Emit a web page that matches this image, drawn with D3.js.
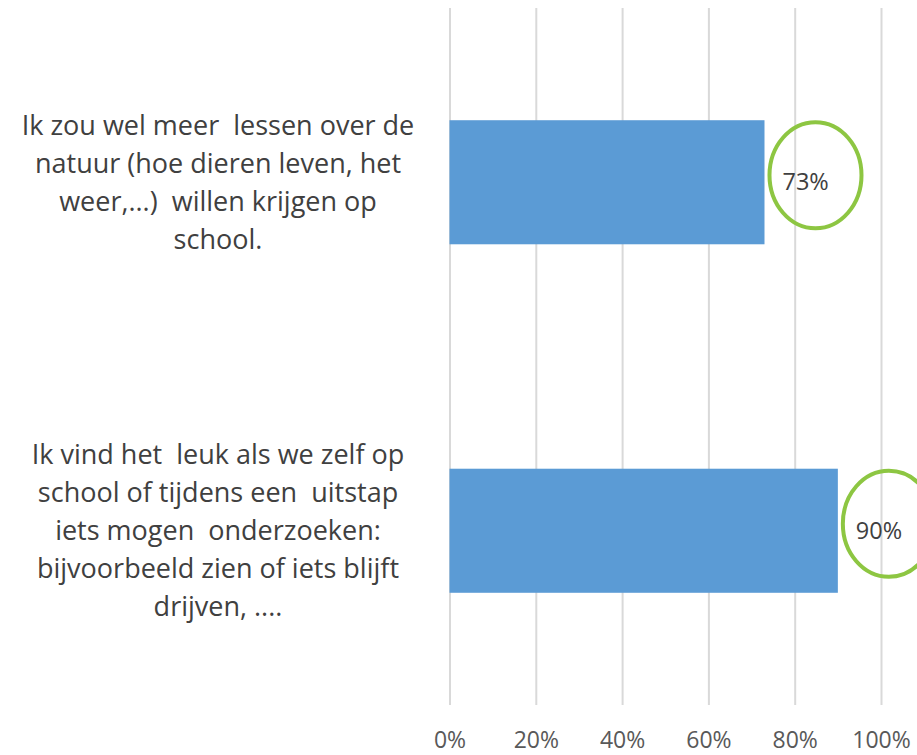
<!DOCTYPE html>
<html>
<head>
<meta charset="utf-8">
<script src="https://cdn.jsdelivr.net/npm/d3@7"></script>
<style>
  body { margin: 0; background: #fff; }
  svg { display: block; font-family: "Open Sans", "Noto Sans", sans-serif; }
  .cat text { white-space: pre; }
</style>
</head>
<body>
<svg id="chart" width="917" height="755"></svg>
<script>
// statements (one entry per bar, each split in its lines as in the picture)
const categories = ["natuur", "onderzoeken"]
const labelLines = [
    ["Ik zou wel meer  lessen over de", "natuur (hoe dieren leven, het", "weer,...)  willen krijgen op", "school."],
    ["Ik vind het  leuk als we zelf op", "school of tijdens een  uitstap", "iets mogen  onderzoeken:", "bijvoorbeeld zien of iets blijft", "drijven, ...."]
]
const values = [0.73, 0.90]
const tickValues = [0, 0.2, 0.4, 0.6, 0.8, 1]

const svg = d3.select("#chart")

const plotTop = 8, plotBottom = 705
const x = d3.scaleLinear().domain([0, 1]).range([449.5, 881])
const y = d3.scaleBand().domain(categories).range([plotTop, plotBottom])
    .paddingInner(0.644).paddingOuter(0.322)

// gridlines + tick labels
var axis = d3.axisBottom(x).tickValues(tickValues).tickFormat(d3.format(".0%"))
    .tickSize(-(plotBottom - plotTop)).tickPadding(27)
var gAxis = svg.append("g").attr("transform", "translate(0," + plotBottom + ")").call(axis)
gAxis.select(".domain").remove()
gAxis.selectAll("line").attr("stroke", "#d9d9d9").attr("stroke-width", 2)
gAxis.selectAll("text").attr("fill", "#595959").attr("font-size", 23)
    .attr("font-family", "\"Open Sans\", \"Noto Sans\", sans-serif")

// bars
svg.append("g").selectAll("rect").data(values).join("rect")
    .attr("x", x(0))
    .attr("y", (d, i) => y(categories[i]))
    .attr("width", d => x(d) - x(0))
    .attr("height", y.bandwidth())
    .attr("fill", "#5b9bd5")

// data labels
svg.append("g").selectAll("text").data(values).join("text")
    .attr("x", d => x(d) + 18)
    .attr("y", (d, i) => y(categories[i]) + y.bandwidth() / 2)
    .attr("dy", "0.35em")
    .attr("font-size", 23.5)
    .attr("fill", "#404040")
    .text(d => Math.round(d * 100) + "%")

// green circles drawn around the labels
svg.append("g").selectAll("ellipse").data(values).join("ellipse")
    .attr("cx", d => x(d) + 51)
    .attr("cy", (d, i) => y(categories[i]) + y.bandwidth() / 2 - 7)
    .attr("rx", 46)
    .attr("ry", 53)
    .attr("fill", "none")
    .attr("stroke", "#8dc642")
    .attr("stroke-width", 4)

// category labels, multi-line and centred left of the plot
var lineH = 38
var cat = svg.append("g").attr("class", "cat")
categories.forEach((c, i) => {
    var lines = labelLines[i]
    var cy = y(c) + y.bandwidth() / 2
    var t = cat.append("text")
        .attr("text-anchor", "middle")
        .attr("font-size", 27)
        .attr("fill", "#404040")
    t.selectAll("tspan").data(lines).join("tspan")
        .attr("x", 218)
        .attr("y", (d, j) => cy + (j - (lines.length - 1) / 2) * lineH)
        .attr("dy", "0.35em")
        .text(d => d)
})
</script>
</body>
</html>
